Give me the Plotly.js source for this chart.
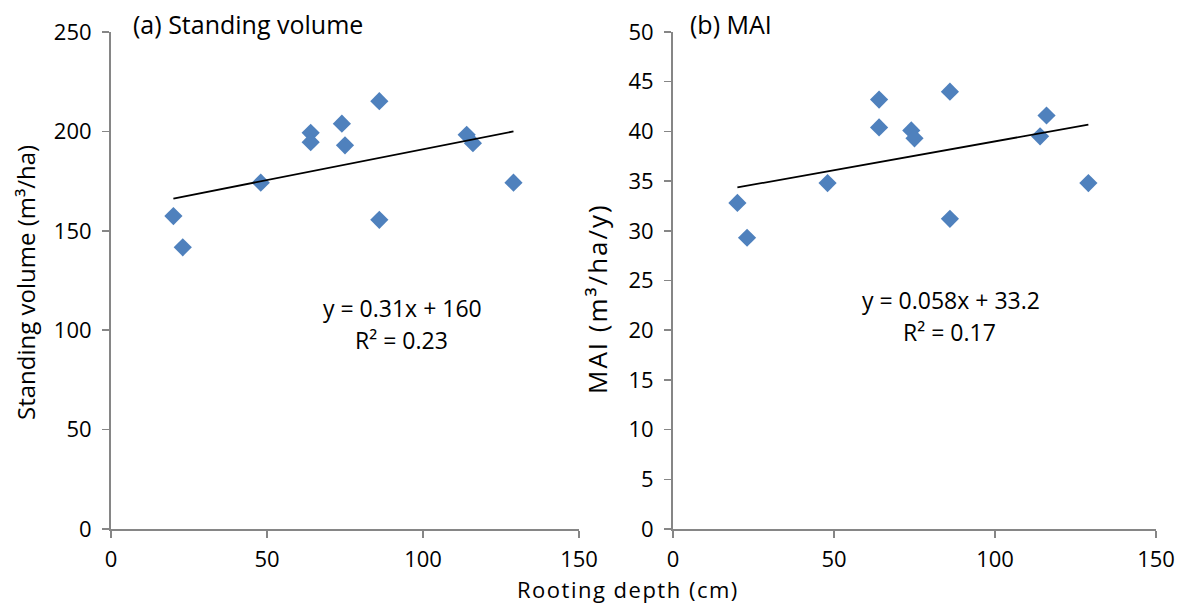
<!DOCTYPE html>
<html>
<head>
<meta charset="utf-8">
<script src="https://cdn.plot.ly/plotly-3.0.1.min.js"></script>
<style>
html,body{margin:0;padding:0;background:#fff;}
#chart{width:1183px;height:605px;}
</style>
</head>
<body>
<div id="chart"></div>
<script>
// Data
const rootingDepth = [20, 23, 48, 64, 64, 74, 75, 86, 86, 114, 116, 129];
const standingVolume = [157.4, 141.7, 174.2, 199.3, 194.6, 203.9, 193.0, 215.2, 155.5, 198.3, 194.1, 174.2];
const mai = [32.8, 29.3, 34.8, 43.2, 40.4, 40.1, 39.3, 44.0, 31.2, 39.5, 41.6, 34.8];
const trendX = [20, 129];
const trendVolume = [166.2, 200.0];
const trendMai = [34.36, 40.68];
const panelTitles = ["(a) Standing volume", "(b) MAI"];
const equationTexts = ["y = 0.31x + 160", "y = 0.058x + 33.2"];
const r2Texts = ["R² = 0.23", "R² = 0.17"];
const xTicks = [0, 50, 100, 150];
const yTicksVolume = [0, 50, 100, 150, 200, 250];
const yTicksMai = [0, 5, 10, 15, 20, 25, 30, 35, 40, 45, 50];

const W = 1183, H = 605;
const px = x => x / W;
const py = y => 1 - y / H;
const FONT = "Open Sans";
const axisColor = "#868686";
const markerColor = "#4F81BD";

const traces = [
  {x: rootingDepth, y: standingVolume, type: "scatter", mode: "markers", xaxis: "x", yaxis: "y",
   marker: {symbol: "diamond", size: 14, color: markerColor, line: {width: 0}}},
  {x: trendX, y: trendVolume, type: "scatter", mode: "lines", xaxis: "x", yaxis: "y",
   line: {color: "#000", width: 1.8}},
  {x: rootingDepth, y: mai, type: "scatter", mode: "markers", xaxis: "x2", yaxis: "y2",
   marker: {symbol: "diamond", size: 14, color: markerColor, line: {width: 0}}},
  {x: trendX, y: trendMai, type: "scatter", mode: "lines", xaxis: "x2", yaxis: "y2",
   line: {color: "#000", width: 1.8}}
];

const axBase = {
  showline: true, linecolor: axisColor, linewidth: 2,
  ticks: "outside", ticklen: 7, tickcolor: axisColor, tickwidth: 1.5,
  showgrid: false, zeroline: false,
  tickfont: {family: FONT, size: 22, color: "#000"},
  fixedrange: true
};

const layout = {
  width: W, height: H,
  margin: {l: 0, r: 0, t: 0, b: 0},
  paper_bgcolor: "#fff", plot_bgcolor: "#fff",
  showlegend: false,
  font: {family: FONT, color: "#000"},
  xaxis: Object.assign({}, axBase, {domain: [px(111), px(579)], range: [0, 150], tickvals: xTicks, anchor: "y", ticklabelstandoff: 3}),
  yaxis: Object.assign({}, axBase, {domain: [py(529), py(32)], range: [0, 250], tickvals: yTicksVolume, anchor: "x", ticklabelstandoff: 6}),
  xaxis2: Object.assign({}, axBase, {domain: [px(673), px(1156)], range: [0, 150], tickvals: xTicks, anchor: "y2", ticklabelstandoff: 3}),
  yaxis2: Object.assign({}, axBase, {domain: [py(529), py(32)], range: [0, 50], tickvals: yTicksMai, anchor: "x2", ticklabelstandoff: 6}),
  annotations: [
    {text: panelTitles[0], xref: "paper", yref: "paper", x: px(131), y: py(24), xanchor: "left", yanchor: "middle", showarrow: false, font: {size: 25}},
    {text: panelTitles[1], xref: "paper", yref: "paper", x: px(688), y: py(24), xanchor: "left", yanchor: "middle", showarrow: false, font: {size: 25}},
    {text: equationTexts[0], xref: "paper", yref: "paper", x: px(402), y: py(308), xanchor: "center", yanchor: "middle", showarrow: false, font: {size: 23}},
    {text: r2Texts[0], xref: "paper", yref: "paper", x: px(401), y: py(340), xanchor: "center", yanchor: "middle", showarrow: false, font: {size: 23}},
    {text: equationTexts[1], xref: "paper", yref: "paper", x: px(951), y: py(300), xanchor: "center", yanchor: "middle", showarrow: false, font: {size: 23}},
    {text: r2Texts[1], xref: "paper", yref: "paper", x: px(949), y: py(332), xanchor: "center", yanchor: "middle", showarrow: false, font: {size: 23}},
    {text: "Standing volume (m³/ha)", xref: "paper", yref: "paper", x: px(25), y: py(283), xanchor: "center", yanchor: "middle", textangle: -90, showarrow: false, font: {size: 24}},
    {text: "<span style=\"letter-spacing:2px\">MAI (m³/ha/y)</span>", xref: "paper", yref: "paper", x: px(597), y: py(299), xanchor: "center", yanchor: "middle", textangle: -90, showarrow: false, font: {size: 26}},
    {text: "<span style=\"letter-spacing:1.5px\">Rooting depth (cm)</span>", xref: "paper", yref: "paper", x: px(628), y: py(605), xanchor: "center", yanchor: "bottom", borderpad: 0, showarrow: false, font: {size: 22}}
  ]
};

Plotly.newPlot("chart", traces, layout, {displayModeBar: false, staticPlot: true});
</script>
</body>
</html>
